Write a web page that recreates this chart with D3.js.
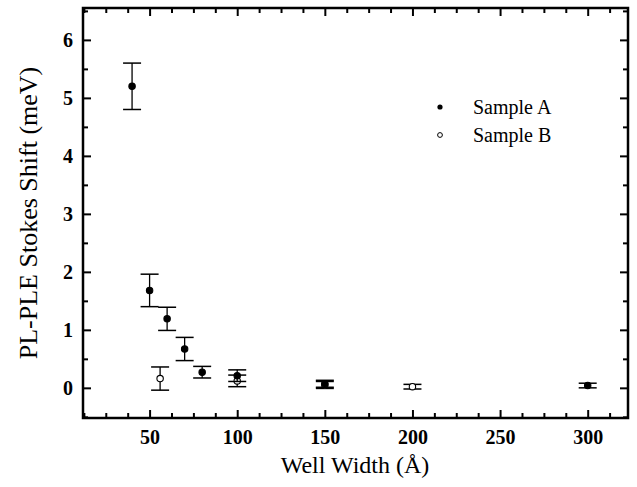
<!DOCTYPE html>
<html>
<head>
<meta charset="utf-8">
<script src="https://cdn.jsdelivr.net/npm/d3@7"></script>
<style>
  body { margin: 0; background: #fff; }
  svg { display: block; }
  text { font-family: "Times New Roman", "Liberation Serif", Tinos, "DejaVu Serif", serif; }
  .axis text { font-weight: bold; font-size: 20px; fill: #000; }
  .axis path { display: none; }
  .axis line { stroke: #000; stroke-width: 2; }
</style>
</head>
<body>
<svg id="chart" width="637" height="487"></svg>
<script>
// well widths (Angstrom) and Stokes shift (meV) with error half-widths
var widthA = [40, 50, 60, 70, 80, 100, 150, 300];
var shiftA = [5.2, 1.68, 1.19, 0.67, 0.27, 0.21, 0.07, 0.04];
var errA   = [0.4, 0.28, 0.2, 0.2, 0.1, 0.1, 0.06, 0.04];

var widthB = [56, 100, 150, 200];
var shiftB = [0.16, 0.12, 0.05, 0.02];
var errB   = [0.2, 0.1, 0.06, 0.04];

var xMajor = [50, 100, 150, 200, 250, 300];
var yMajor = [0, 1, 2, 3, 4, 5, 6];

(function(){
  var svg = d3.select("#chart");
  var mLeft = 83, mRight = 628, mTop = 8, mBottom = 418;

  var x = d3.scaleLinear().domain([12, 323]).range([mLeft, mRight]);
  var y = d3.scaleLinear().domain([-0.52, 6.55]).range([mBottom, mTop]);

  var xMinor = d3.range(12.5, 323, 12.5).filter(function(v){ return v % 50 != 0; });
  var yMinor = d3.range(-0.5, 6.55, 0.5).filter(function(v){ return v % 1 != 0; });

  // ticks (inward, mirrored on top and right)
  svg.append("g").attr("class", "axis").attr("transform", "translate(0," + mBottom + ")")
    .call(d3.axisBottom(x).tickValues(xMajor).tickSize(-8).tickPadding(12).tickFormat(d3.format("d")));
  svg.append("g").attr("class", "axis").attr("transform", "translate(0," + mBottom + ")")
    .call(d3.axisBottom(x).tickValues(xMinor).tickSize(-5).tickFormat(""));
  svg.append("g").attr("class", "axis").attr("transform", "translate(0," + mTop + ")")
    .call(d3.axisTop(x).tickValues(xMajor).tickSize(-8).tickFormat(""));
  svg.append("g").attr("class", "axis").attr("transform", "translate(0," + mTop + ")")
    .call(d3.axisTop(x).tickValues(xMinor).tickSize(-5).tickFormat(""));

  svg.append("g").attr("class", "axis").attr("transform", "translate(" + mLeft + ",0)")
    .call(d3.axisLeft(y).tickValues(yMajor).tickSize(-8).tickPadding(10).tickFormat(d3.format("d")));
  svg.append("g").attr("class", "axis").attr("transform", "translate(" + mLeft + ",0)")
    .call(d3.axisLeft(y).tickValues(yMinor).tickSize(-5).tickFormat(""));
  svg.append("g").attr("class", "axis").attr("transform", "translate(" + mRight + ",0)")
    .call(d3.axisRight(y).tickValues(yMajor).tickSize(-8).tickFormat(""));
  svg.append("g").attr("class", "axis").attr("transform", "translate(" + mRight + ",0)")
    .call(d3.axisRight(y).tickValues(yMinor).tickSize(-5).tickFormat(""));

  // frame
  svg.append("rect")
    .attr("x", mLeft).attr("y", mTop)
    .attr("width", mRight - mLeft).attr("height", mBottom - mTop)
    .attr("fill", "none").attr("stroke", "#000").attr("stroke-width", 2.5);

  function drawSeries(xs, ys, es, filled){
    var g = svg.append("g");
    var pts = xs.map(function(d, i){ return {x: d, y: ys[i], e: es[i]}; });
    var cap = 9;
    pts.forEach(function(p){
      var cx = x(p.x);
      g.append("line").attr("x1", cx).attr("x2", cx)
        .attr("y1", y(p.y + p.e)).attr("y2", y(p.y - p.e))
        .attr("stroke", "#000").attr("stroke-width", 1.3);
      [p.y + p.e, p.y - p.e].forEach(function(v){
        g.append("line").attr("x1", cx - cap).attr("x2", cx + cap)
          .attr("y1", y(v)).attr("y2", y(v))
          .attr("stroke", "#000").attr("stroke-width", 1.5);
      });
    });
    g.selectAll("circle").data(pts).enter().append("circle")
      .attr("cx", function(d){ return x(d.x); })
      .attr("cy", function(d){ return y(d.y); })
      .attr("r", 3.2)
      .attr("fill", filled ? "#000" : "#fff")
      .attr("stroke", "#000").attr("stroke-width", 1.1);
  }
  drawSeries(widthB, shiftB, errB, false);
  drawSeries(widthA, shiftA, errA, true);

  // legend
  var legend = svg.append("g").attr("font-size", 20);
  legend.append("circle").attr("cx", 440).attr("cy", 107).attr("r", 2.6).attr("fill", "#000");
  legend.append("text").attr("x", 473).attr("y", 114).text("Sample A");
  legend.append("circle").attr("cx", 440).attr("cy", 135).attr("r", 2.4).attr("fill", "#fff").attr("stroke", "#000").attr("stroke-width", 1);
  legend.append("text").attr("x", 473).attr("y", 142).text("Sample B");

  // axis titles
  svg.append("text")
    .attr("x", 355).attr("y", 473)
    .attr("text-anchor", "middle")
    .attr("font-size", 24)
    .text("Well Width (Å)");
  svg.append("text")
    .attr("transform", "translate(37,213) rotate(-90)")
    .attr("text-anchor", "middle")
    .attr("font-size", 26)
    .text("PL-PLE Stokes Shift (meV)");
})();
</script>
</body>
</html>
